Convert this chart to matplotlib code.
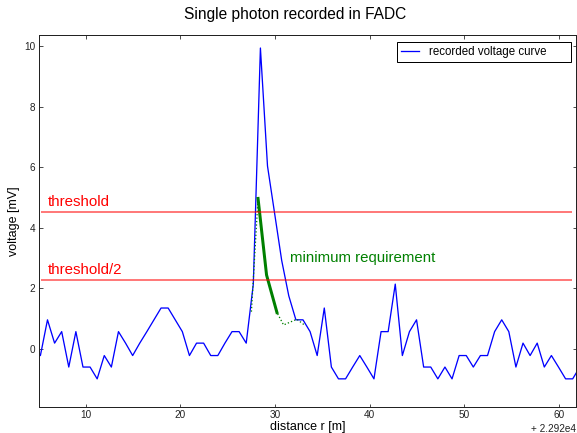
import matplotlib
matplotlib.use('Agg')
import matplotlib.pyplot as plt
from matplotlib.ticker import FuncFormatter

plt.rcParams['font.family'] = ['Liberation Sans', 'DejaVu Sans']

# FADC samples: distance relative to r_offset [m] and voltage [mV]
r_offset = 22920
distance = [4.45, 5.20, 5.95, 6.70, 7.45, 8.20, 8.95, 9.70, 10.45, 11.20,
            11.95, 12.70, 13.45, 14.20, 14.95, 15.70, 16.45, 17.20, 17.95, 18.70,
            19.45, 20.20, 20.95, 21.70, 22.45, 23.20, 23.95, 24.70, 25.45, 26.20,
            26.95, 27.70, 28.45, 29.20, 29.95, 30.70, 31.45, 32.20, 32.95, 33.70,
            34.45, 35.20, 35.95, 36.70, 37.45, 38.20, 38.95, 39.70, 40.45, 41.20,
            41.95, 42.70, 43.45, 44.20, 44.95, 45.70, 46.45, 47.20, 47.95, 48.70,
            49.45, 50.20, 50.95, 51.70, 52.45, 53.20, 53.95, 54.70, 55.45, 56.20,
            56.95, 57.70, 58.45, 59.20, 59.95, 60.70, 61.45, 62.20]
voltage = [-0.22, -0.22, 0.96, 0.19, 0.57, -0.60, 0.57, -0.60, -0.60, -0.99,
           -0.22, -0.60, 0.57, 0.19, -0.22, 0.19, 0.57, 0.96, 1.35, 1.35,
           0.96, 0.57, -0.22, 0.19, 0.19, -0.22, -0.22, 0.19, 0.57, 0.57,
           0.19, 2.14, 9.94, 6.04, 4.48, 2.92, 1.75, 0.96, 0.96, 0.57,
           -0.22, 1.35, -0.60, -0.99, -0.99, -0.60, -0.22, -0.60, -0.99, 0.57,
           0.57, 2.14, -0.22, 0.57, 0.96, -0.60, -0.60, -0.99, -0.60, -0.99,
           -0.22, -0.22, -0.60, -0.22, -0.22, 0.57, 0.96, 0.57, -0.60, 0.19,
           -0.22, 0.19, -0.60, -0.22, -0.60, -0.99, -0.99, -0.60]

# minimum pulse shape (dotted) and the part that has to be exceeded (solid)
min_r = [27.5, 28.2, 29.1, 30.2, 30.9, 32.3, 33.1]
min_v = [1.23, 4.97, 2.44, 1.20, 0.79, 0.98, 0.79]
req_r = [28.2, 29.1, 30.2]
req_v = [4.97, 2.44, 1.20]

threshold = 4.52

fig = plt.figure(figsize=(577 / 72, 433 / 72), dpi=72)
ax = fig.add_axes([38.5 / 577, 1 - 407 / 433, (576 - 38.5) / 577, (407 - 35) / 433])

ax.plot(distance, voltage, color='blue', lw=1.3, label='recorded voltage curve')
ax.plot(min_r, min_v, color='green', lw=1.3, ls=':')
ax.plot(req_r, req_v, color='green', lw=3)

ax.hlines([threshold, threshold / 2], 5.3, 61.35, color='red', alpha=0.65, lw=1.6)
ax.text(5.95, threshold + 0.2, 'threshold', color='red', fontsize=15, va='baseline')
ax.text(5.95, threshold / 2 + 0.2, 'threshold/2', color='red', fontsize=15, va='baseline')
ax.text(31.55, 2.87, 'minimum requirement', color='green', fontsize=15, va='baseline')

ax.set_xlim(5, 61.8)
ax.set_ylim(-1.92, 10.37)
ax.set_yticks([0, 2, 4, 6, 8, 10])
ax.set_xticks([10, 20, 30, 40, 50, 60])
ax.xaxis.set_major_formatter(FuncFormatter(lambda v, p: '%d' % v))
ax.tick_params(direction='in', top=True, right=True, length=3.5, width=0.8,
               labelsize=10, pad=3, colors='#222222')
for s in ax.spines.values():
    s.set_linewidth(1.0)
    s.set_color('#222222')

ax.text(1.0, -0.045, '+ %.3fe4' % (r_offset / 1e4), transform=ax.transAxes,
        ha='right', va='top', fontsize=10, color='#222222')

ax.set_xlabel('distance r [m]', fontsize=12.5, labelpad=1)
ax.set_ylabel('voltage [mV]', fontsize=12.5, labelpad=4)
fig.text(295 / 577, 1 - 19 / 433, 'Single photon recorded in FADC', fontsize=15.5,
         ha='center', va='baseline')

# legend box stretched over a fixed width in the upper right corner
leg = ax.legend(loc='upper left', bbox_to_anchor=(0.6664, 0.5, 0.3237, 0.482),
                mode='expand', borderaxespad=0, fontsize=11.5, fancybox=False,
                edgecolor='black', framealpha=1, borderpad=0.35,
                handlelength=1.55, handletextpad=0.95)
leg.get_frame().set_linewidth(1.0)

fig.savefig('out.png', dpi=72)
